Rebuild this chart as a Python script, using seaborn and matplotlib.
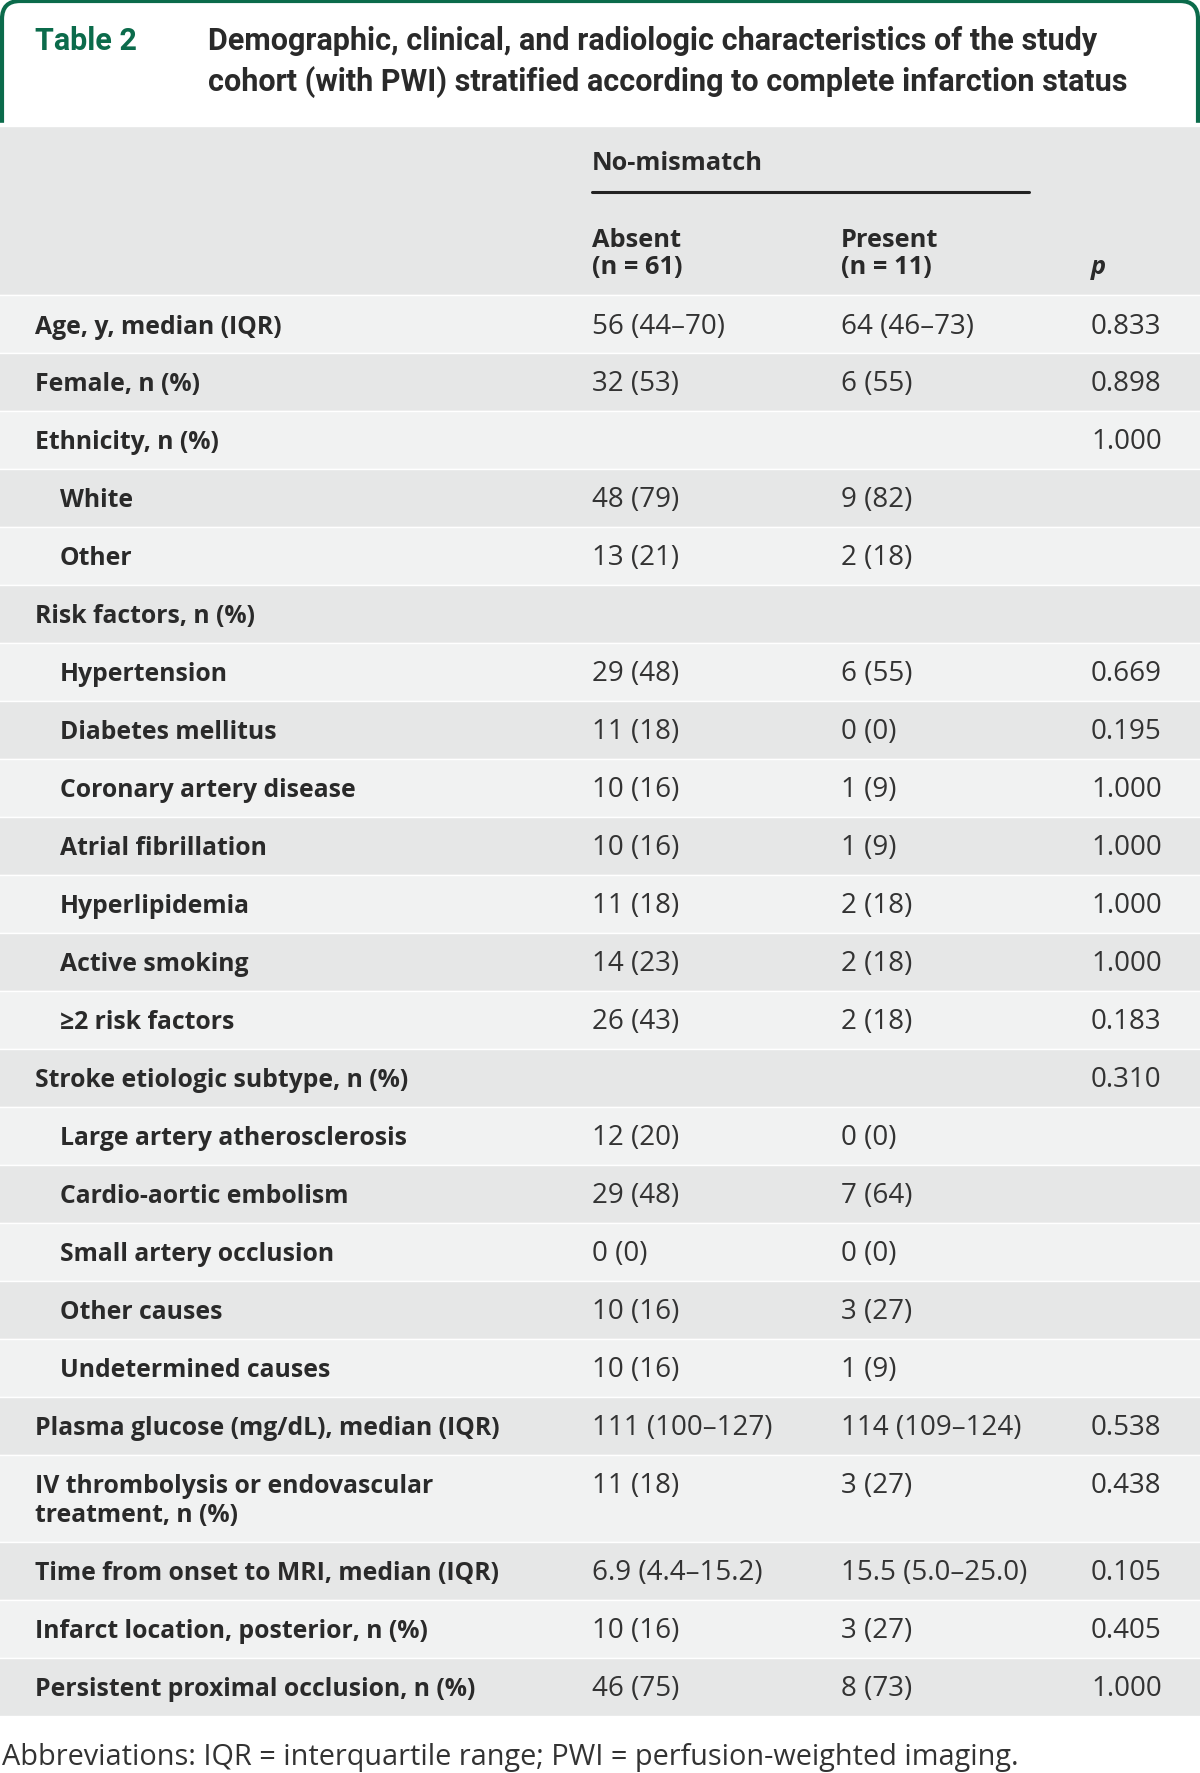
import numpy as np
import matplotlib.pyplot as plt
import seaborn as sns
from matplotlib.patches import FancyBboxPatch

sns.set_theme(style="white")
plt.rcParams['font.family'] = ['Open Sans', 'DejaVu Sans']

# --- datos de la tabla ---
table_no = "Table 2"
caption = ["Demographic, clinical, and radiologic characteristics of the study",
           "cohort (with PWI) stratified according to complete infarction status"]
group_header = "No-mismatch"
col_headers = [["Absent", "(n = 61)"], ["Present", "(n = 11)"]]
p_header = "p"

labels = ["Age, y, median (IQR)", "Female, n (%)", "Ethnicity, n (%)", "White", "Other",
          "Risk factors, n (%)", "Hypertension", "Diabetes mellitus",
          "Coronary artery disease", "Atrial fibrillation", "Hyperlipidemia",
          "Active smoking", "≥2 risk factors", "Stroke etiologic subtype, n (%)",
          "Large artery atherosclerosis", "Cardio-aortic embolism",
          "Small artery occlusion", "Other causes", "Undetermined causes",
          "Plasma glucose (mg/dL), median (IQR)",
          "IV thrombolysis or endovascular\ntreatment, n (%)",
          "Time from onset to MRI, median (IQR)",
          "Infarct location, posterior, n (%)",
          "Persistent proximal occlusion, n (%)"]
indented = [False, False, False, True, True, False, True, True, True, True, True,
            True, True, False, True, True, True, True, True, False, False, False,
            False, False]
absent = ["56 (44–70)", "32 (53)", "", "48 (79)", "13 (21)", "", "29 (48)", "11 (18)",
          "10 (16)", "10 (16)", "11 (18)", "14 (23)", "26 (43)", "", "12 (20)",
          "29 (48)", "0 (0)", "10 (16)", "10 (16)", "111 (100–127)", "11 (18)",
          "6.9 (4.4–15.2)", "10 (16)", "46 (75)"]
present = ["64 (46–73)", "6 (55)", "", "9 (82)", "2 (18)", "", "6 (55)", "0 (0)",
           "1 (9)", "1 (9)", "2 (18)", "2 (18)", "2 (18)", "", "0 (0)", "7 (64)",
           "0 (0)", "3 (27)", "1 (9)", "114 (109–124)", "3 (27)", "15.5 (5.0–25.0)",
           "3 (27)", "8 (73)"]
pvals = ["0.833", "0.898", "1.000", "", "", "", "0.669", "0.195", "1.000", "1.000",
         "1.000", "1.000", "0.183", "0.310", "", "", "", "", "", "0.538", "0.438",
         "0.105", "0.405", "1.000"]
footnote = "Abbreviations: IQR = interquartile range; PWI = perfusion-weighted imaging."

# --- estilo ---
W, H = 1200, 1774
green = "#0b6b4b"
dark_row = "#e6e7e7"
light_row = "#f1f2f2"
txt = "#2a2a2a"
fs_label = 17.8
fs_head = 18.3
fs_value = 20
fs_foot = 20.8
fs_title = 22
title_font = ['Roboto', 'DejaVu Sans']

fig = plt.figure(figsize=(W / 100, H / 100), dpi=100)
ax = fig.add_axes([0, 0, 1, 1])
ax.set_xlim(0, W)
ax.set_ylim(H, 0)
ax.axis('off')

# marco verde del título
frame = FancyBboxPatch((2, 2), W - 4, 200, boxstyle="round,pad=0,rounding_size=18",
                       facecolor="white", edgecolor=green, linewidth=3, zorder=1)
ax.add_patch(frame)
ax.barh(125.5, W + 20, height=3, left=-10, color="white", zorder=2)

ax.text(35, 50, table_no, color=green, fontsize=fs_title, fontweight='bold',
        family=title_font, va='baseline')
for i, line in enumerate(caption):
    ax.text(208, 50 + 41 * i, line, color=txt, fontsize=fs_title, fontweight='bold',
            family=title_font, va='baseline')

# cabecera gris
ax.barh(211.5, W + 20, height=169, left=-10, color=dark_row, zorder=2)
col_x = [592, 841]
p_x = 1091
ax.text(col_x[0], 170, group_header, fontsize=fs_head, fontweight='bold', color=txt,
        va='baseline', zorder=3)
ax.plot([col_x[0], 1029], [193, 193], color="#222222", lw=2.2, zorder=3)
for x, (a, b) in zip(col_x, col_headers):
    ax.text(x, 247, a, fontsize=fs_head, fontweight='bold', color=txt, va='baseline', zorder=3)
    ax.text(x, 274, b, fontsize=fs_head, fontweight='bold', color=txt, va='baseline', zorder=3)
ax.text(p_x, 274, p_header, fontsize=fs_head, fontweight='bold', fontstyle='italic',
        color=txt, va='baseline', zorder=3)

# filas
base_h = 58
n_lines = np.array([lab.count("\n") + 1 for lab in labels])
heights = base_h * (1 + 0.5 * (n_lines - 1))
tops = 296 + np.concatenate([[0], np.cumsum(heights)[:-1]])
colors = [light_row if i % 2 == 0 else dark_row for i in range(len(labels))]
ax.barh(tops + heights / 2, W + 20, height=heights, left=-10, color=colors, zorder=2)

for i, lab in enumerate(labels):
    base = tops[i] + base_h / 2 + 8.5
    x0 = 60 if indented[i] else 35
    for j, line in enumerate(lab.split("\n")):
        ax.text(x0, base + 28.5 * j, line, fontsize=fs_label, fontweight='bold', color=txt,
                va='baseline', zorder=3)
    for x, val in zip(col_x + [p_x], [absent[i], present[i], pvals[i]]):
        if val:
            ax.text(x, base, val, fontsize=fs_value, color="#333333", va='baseline', zorder=3)

ax.text(2, 1765, footnote, fontsize=fs_foot, color="#333333", va='baseline', zorder=3)

fig.savefig("out.png", dpi=100)
